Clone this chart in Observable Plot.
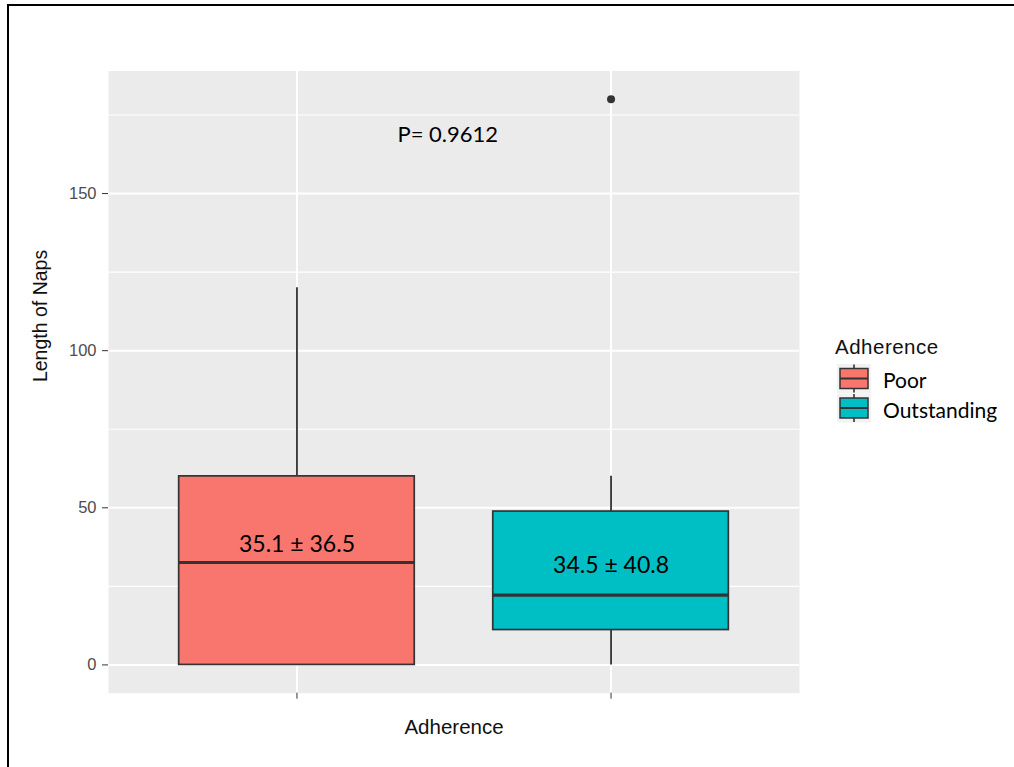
<!DOCTYPE html>
<html>
<head>
<meta charset="utf-8">
<script src="https://cdn.jsdelivr.net/npm/d3@7"></script>
<script src="https://cdn.jsdelivr.net/npm/@observablehq/plot@0.6"></script>
<style>
  html, body { margin: 0; padding: 0; background: white; overflow: hidden; }
  #wrap { position: relative; width: 1014px; height: 767px; overflow: hidden; }
  #border { position: absolute; left: 7px; top: 4px; width: 3000px; height: 3000px;
            border-left: 2.5px solid #000; border-top: 2.5px solid #000; pointer-events: none; }
</style>
</head>
<body>
<div id="wrap"><div id="border"></div></div>
<script>
// ---- data ----
const groups = ["Poor", "Outstanding"];
const groupColors = ["#F8766D", "#00BFC4"];
const q1 = [0, 11.1];
const medians = [32.6, 22.2];
const q3 = [60, 48.8];
const whiskerLow = [0, 0];
const whiskerHigh = [120, 60];
const outlierGroups = ["Outstanding"];
const outlierValues = [180];
const boxLabels = ["35.1 ± 36.5", "34.5 ± 40.8"];
const boxLabelY = [38.3, 31.6];
const pLabel = "P= 0.9612";
const pLabelPos = [1.48, 168.8];
const yTicks = [0, 50, 100, 150];
const yMinor = [25, 75, 125, 175];
const xTitle = "Adherence";
const yTitle = "Length of Naps";
const legendTitle = "Adherence";

// ---- build table ----
const pos = groups.map((g, i) => i + 1);
const boxes = groups.map((g, i) => ({
  group: g, x: pos[i], x1: pos[i] - 0.375, x2: pos[i] + 0.375,
  q1: q1[i], median: medians[i], q3: q3[i], lo: whiskerLow[i], hi: whiskerHigh[i],
  label: boxLabels[i], labelY: boxLabelY[i], color: groupColors[i]
}));
const outliers = outlierGroups.map((g, i) => ({x: pos[groups.indexOf(g)], y: outlierValues[i]}));

const dark = "#333333";
const annotFont = "Lato, 'Open Sans', sans-serif";

const chart = Plot.plot({
  width: 1014,
  height: 767,
  marginLeft: 108,
  marginRight: 215,
  marginTop: 70.5,
  marginBottom: 74.3,
  style: {fontFamily: "'Liberation Sans', Arial, sans-serif", background: "white", color: "#000"},
  x: {domain: [0.4, 2.6]},
  y: {domain: [-9, 189]},
  marks: [
    Plot.frame({fill: "#EBEBEB", stroke: "none"}),
    Plot.ruleY(yMinor, {stroke: "white", strokeWidth: 1.2}),
    Plot.ruleY(yTicks, {stroke: "white", strokeWidth: 2}),
    Plot.ruleX(pos, {stroke: "white", strokeWidth: 2}),
    // whiskers
    Plot.ruleX(boxes, {x: "x", y1: "q3", y2: "hi", stroke: dark, strokeWidth: 1.8}),
    Plot.ruleX(boxes, {x: "x", y1: "lo", y2: "q1", stroke: dark, strokeWidth: 1.8}),
    // boxes
    Plot.rect(boxes, {x1: "x1", x2: "x2", y1: "q1", y2: "q3", fill: "color", stroke: dark, strokeWidth: 1.7}),
    // medians
    Plot.ruleY(boxes, {x1: "x1", x2: "x2", y: "median", stroke: dark, strokeWidth: 3.2}),
    // outliers
    Plot.dot(outliers, {x: "x", y: "y", r: 4, fill: dark, stroke: "none"}),
    // annotations
    Plot.text(boxes, {x: "x", y: "labelY", text: "label", fontSize: 23, fill: "#000", fontFamily: annotFont}),
    Plot.text([pLabel], {x: () => pLabelPos[0], y: () => pLabelPos[1], text: d => d, fontSize: 22, fill: "#000", fontFamily: annotFont}),
    // axes
    Plot.axisY({ticks: yTicks, tickSize: 6, tickPadding: 6, fontSize: 16.5, fill: "#4D4D4D", stroke: dark, label: null}),
    Plot.axisX({ticks: pos, tickSize: 6, tickFormat: () => "", stroke: dark, label: null}),
    // axis titles
    Plot.text([yTitle], {frameAnchor: "left", dx: -68, rotate: -90, text: d => d, fontSize: 19.5, fill: "#111"}),
    Plot.text([xTitle], {frameAnchor: "bottom", dy: 40.5, text: d => d, fontSize: 20.5, fill: "#111", letterSpacing: "0.5px"})
  ]
});

// ---- legend (drawn into the same SVG) ----
const svg = d3.select(chart);
const lg = svg.append("g").attr("class", "legend").attr("text-anchor", "start");
lg.append("text")
  .attr("x", 835).attr("y", 347).attr("dy", "0.35em").attr("text-anchor", "start")
  .attr("font-family", "'Liberation Sans', Arial, sans-serif")
  .attr("font-size", 20.5).attr("letter-spacing", "0.5px").attr("fill", "#111")
  .text(legendTitle);
groups.forEach((g, i) => {
  const cy = 378.5 + 29.5 * i;
  const k = lg.append("g");
  k.append("rect").attr("x", 837).attr("y", cy - 14.5).attr("width", 34).attr("height", 29).attr("fill", "#F2F2F2");
  k.append("line").attr("x1", 854).attr("x2", 854).attr("y1", cy - 14).attr("y2", cy + 14)
    .attr("stroke", dark).attr("stroke-width", 1.6);
  k.append("rect").attr("x", 840).attr("y", cy - 10).attr("width", 28).attr("height", 20)
    .attr("fill", groupColors[i]).attr("stroke", dark).attr("stroke-width", 1.5);
  k.append("line").attr("x1", 840).attr("x2", 868).attr("y1", cy).attr("y2", cy)
    .attr("stroke", dark).attr("stroke-width", 2);
  k.append("text").attr("x", 883).attr("y", cy + 2.5).attr("dy", "0.35em").attr("text-anchor", "start")
    .attr("font-family", annotFont).attr("font-size", 21).attr("fill", "#000").text(g);
});

document.getElementById("wrap").prepend(chart);
</script>
</body>
</html>
